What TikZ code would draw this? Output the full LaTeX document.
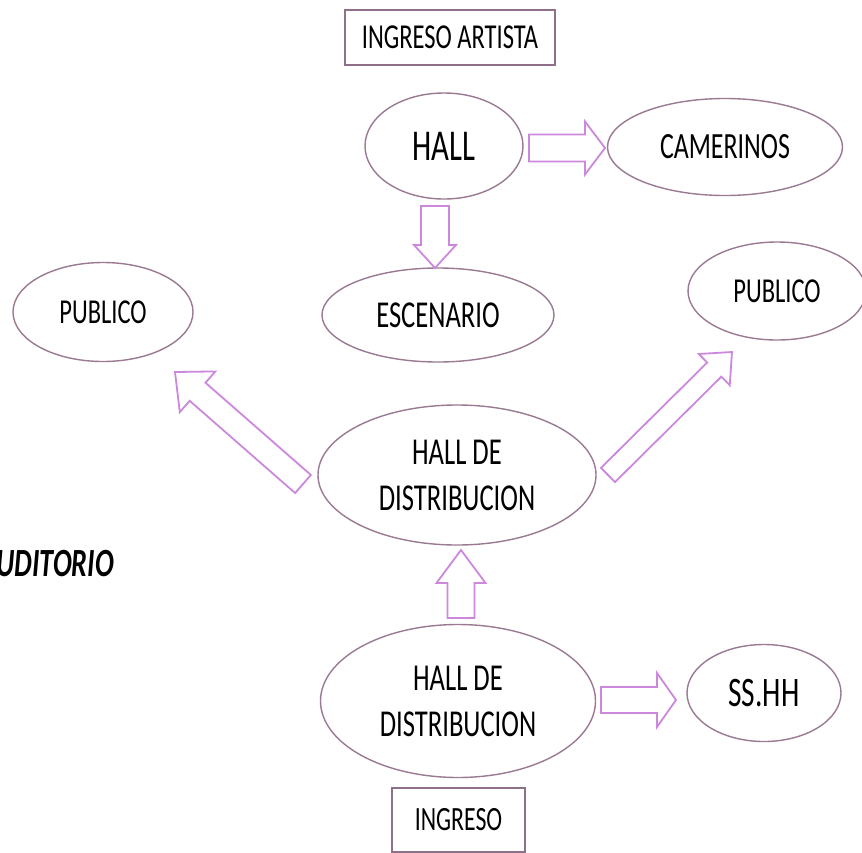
\documentclass[tikz,border=0pt]{standalone}
\usepackage{fontspec}
\setmainfont[FakeStretch=0.70]{Carlito}
\usetikzlibrary{calc,shapes.geometric}
\definecolor{ellline}{HTML}{9A7A92}
\definecolor{arrline}{HTML}{CC88DD}
\definecolor{boxline}{HTML}{8E7088}
\newcommand\blockarrow[5]{%
  \coordinate (ba-h) at ($(#2)!#5!(#1)$);
  \draw[blockarr] ($(#1)!#3!90:(#2)$) -- ($(ba-h)!#3!90:(#2)$) -- ($(ba-h)!#4!90:(#2)$) -- (#2)
    -- ($(ba-h)!#4!-90:(#2)$) -- ($(ba-h)!#3!-90:(#2)$) -- ($(#1)!#3!-90:(#2)$) -- cycle;}
\tikzset{
  ell/.style={ellipse, draw=ellline, line width=1.4pt, fill=white, inner sep=0pt, text=black},
  boxn/.style={rectangle, draw=boxline, line width=1.6pt, fill=white, inner sep=0pt, text=black},
  blockarr/.style={draw=arrline, line width=1.8pt, fill=white, line join=miter},
}
\begin{document}
\begin{tikzpicture}[x=1pt,y=-1pt]
\useasboundingbox (0,0) rectangle (862,852);
\clip (0,0) rectangle (862,852);
\fill[white] (0,0) rectangle (862,852);

\node[boxn, minimum width=210pt, minimum height=55pt, font=\fontsize{35}{42}\selectfont] (ingart) at (450,37.5)
  {INGRESO ARTISTA};
\node[ell, minimum width=158pt, minimum height=106pt, font=\fontsize{44}{52}\selectfont] (hall) at (444,146)
  {HALL};
\node[ell, minimum width=235pt, minimum height=97pt, font=\fontsize{37}{44}\selectfont] (cam) at (725,147)
  {CAMERINOS};
\node[ell, minimum width=232pt, minimum height=94pt, font=\fontsize{38}{45}\selectfont] (esc) at (438,315)
  {ESCENARIO};
\node[ell, minimum width=180pt, minimum height=99pt, font=\fontsize{35}{42}\selectfont] (pubL) at (103,312)
  {PUBLICO};
\node[ell, minimum width=178pt, minimum height=98pt, font=\fontsize{35}{42}\selectfont] (pubR) at (777,291)
  {PUBLICO};
\node[ell, minimum width=278pt, minimum height=140pt, align=center, font=\fontsize{38}{46}\selectfont] (hdm) at (457,475)
  {HALL DE\\DISTRIBUCION};
\node[ell, minimum width=275pt, minimum height=153pt, align=center, font=\fontsize{38}{46}\selectfont] (hdl) at (458,701)
  {HALL DE\\DISTRIBUCION};
\node[ell, minimum width=154pt, minimum height=97pt, font=\fontsize{42}{50}\selectfont] (ss) at (764,693)
  {SS.HH};
\node[boxn, minimum width=133pt, minimum height=64pt, font=\fontsize{34}{40}\selectfont] (ing) at (458.5,820)
  {INGRESO};
\node[anchor=east, inner sep=0pt, font=\fontsize{40}{46}\selectfont\bfseries\itshape] (aud) at (114,564)
  {UDITORIO};

% arrow end points
\coordinate (a1t) at (529,148);  \coordinate (a1p) at (605,148);
\coordinate (a2t) at (435,206);  \coordinate (a2p) at (435,268);
\coordinate (a3t) at (303,484);  \coordinate (a3p) at (175,372);
\coordinate (a4t) at (608,475);  \coordinate (a4p) at (732,352);
\coordinate (a5t) at (461,618);  \coordinate (a5p) at (461,550);
\coordinate (a6t) at (601,700);  \coordinate (a6p) at (676,700);

\blockarrow{a1t}{a1p}{13.5pt}{26.5pt}{20pt}
\blockarrow{a2t}{a2p}{14pt}{21pt}{23pt}
\blockarrow{a3t}{a3p}{12pt}{27pt}{30pt}
\blockarrow{a4t}{a4p}{10pt}{22pt}{25pt}
\blockarrow{a5t}{a5p}{13.5pt}{24.5pt}{33pt}
\blockarrow{a6t}{a6p}{13pt}{27pt}{19pt}
\end{tikzpicture}
\end{document}
